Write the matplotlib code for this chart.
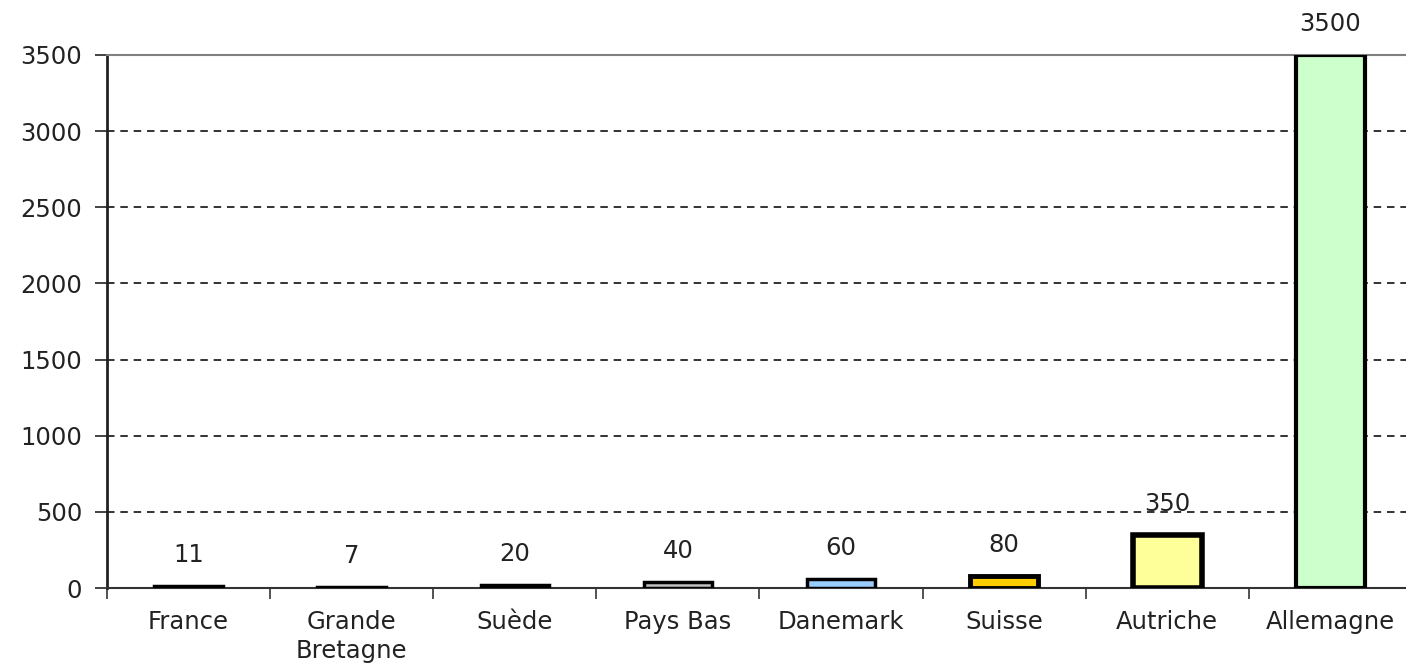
import matplotlib.pyplot as plt
import numpy as np

# Données
pays = ['France', 'Grande\nBretagne', 'Suède', 'Pays Bas', 'Danemark', 'Suisse', 'Autriche', 'Allemagne']
valeurs = [11, 7, 20, 40, 60, 80, 350, 3500]
couleurs = ['#000000', '#000000', '#000000', '#c0c0c0', '#99ccff', '#ffcc00', '#ffff99', '#ccffcc']
epaisseurs = [2.5, 2.5, 2.5, 2.5, 2.5, 3.5, 4, 3]

plt.rcParams['font.family'] = ['DejaVu Sans']

fig = plt.figure(figsize=(14.06, 6.66), dpi=100)
ax = fig.add_axes([107 / 1406, 78 / 666, 1305 / 1406, 533 / 666])

x = np.arange(len(pays))
ax.bar(x, valeurs, width=0.42, color=couleurs, edgecolor='black', linewidth=epaisseurs, zorder=3)

# Étiquettes de valeurs
for xi, v in zip(x, valeurs):
    ax.annotate(str(v), (xi, v), xytext=(0, 19), textcoords='offset pixels',
                ha='center', va='bottom', fontsize=17.5, color='#222222')

ax.set_xlim(-0.5, 7.5)
ax.set_ylim(0, 3500)
ax.set_yticks(range(0, 3501, 500))
ax.tick_params(axis='y', labelsize=17.5, length=9, width=1.2, colors='#222222', pad=9)

# Graduations de l'axe x entre les catégories
ax.set_xticks(x)
ax.set_xticklabels(pays, fontsize=17.5, color='#222222', linespacing=1.25)
ax.tick_params(axis='x', length=0, pad=16)
ax.set_xticks(np.arange(-0.5, 8, 1), minor=True)
ax.tick_params(axis='x', which='minor', length=8, width=1.2, color='#333333')

# Grille pointillée
for y in range(500, 3500, 500):
    ax.axhline(y, color='#111111', linestyle=(0, (4.5, 3.5)), linewidth=1.2, zorder=1)

ax.spines['top'].set_color('#808080')
ax.spines['top'].set_linewidth(1.5)
ax.spines['right'].set_visible(False)
ax.spines['left'].set_linewidth(2)
ax.spines['left'].set_color('#222222')
ax.spines['bottom'].set_linewidth(1.5)
ax.spines['bottom'].set_color('#333333')

plt.savefig('out.png', dpi=100)
